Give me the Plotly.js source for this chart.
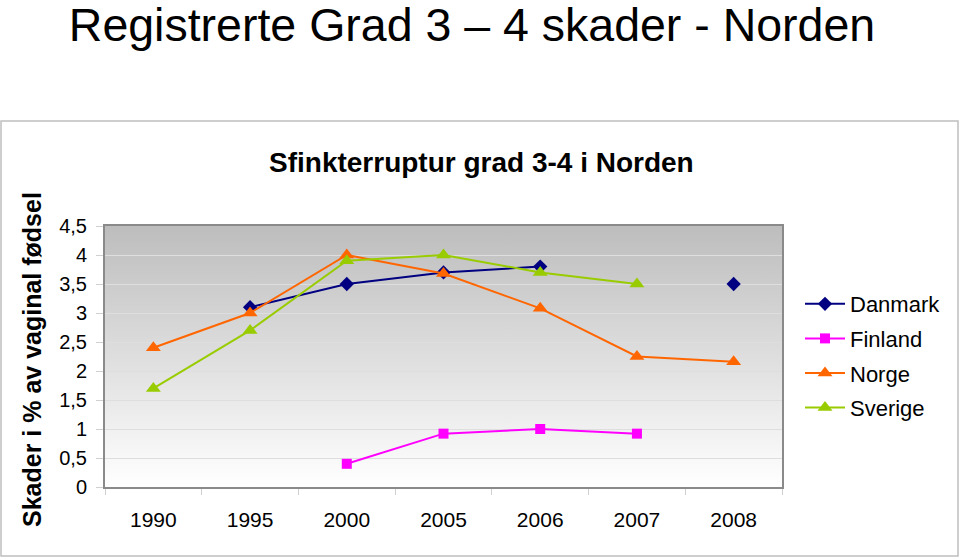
<!DOCTYPE html>
<html>
<head>
<meta charset="utf-8">
<script src="https://cdn.plot.ly/plotly-3.0.1.min.js"></script>
<style>
  html, body { margin: 0; padding: 0; background: #ffffff; }
  #chart { width: 960px; height: 559px; }
</style>
</head>
<body>
<div id="chart"></div>
<script>
// ---- Data ----
const years = ["1990", "1995", "2000", "2005", "2006", "2007", "2008"];
const danmark = [null, 3.1, 3.5, 3.7, 3.8, null, 3.5];
const finland = [null, null, 0.4, 0.92, 1.0, 0.92, null];
const norge   = [2.4, 3.0, 4.0, 3.68, 3.08, 2.25, 2.16];
const sverige = [1.7, 2.7, 3.9, 4.0, 3.7, 3.5, null];
const yTicks = [0, 0.5, 1, 1.5, 2, 2.5, 3, 3.5, 4, 4.5];

// ---- Layout geometry (pixels) ----
const W = 960, H = 559;
const PL = 105, PR = 782, PT = 226, PB = 487;
const px = x => (x - PL) / (PR - PL);
const py = y => (PB - y) / (PB - PT);

const FONT = "Liberation Sans, Arial, sans-serif";

function series(name, y, color, symbol, size) {
  return {
    type: "scatter", mode: "lines+markers", name: name,
    x: years, y: y, connectgaps: false, legendgroup: name,
    line: { color: color, width: 2 },
    marker: { color: color, symbol: symbol, size: size, line: { width: 0 } }
  };
}

const traces = [
  series("Danmark", danmark, "#000080", "diamond", 11),
  series("Finland", finland, "#ff00ff", "square", 10),
  series("Norge", norge, "#ff6600", "triangle-up", 13),
  series("Sverige", sverige, "#99cc00", "triangle-up", 13)
];

const grad = '<svg xmlns="http://www.w3.org/2000/svg" width="100" height="100" preserveAspectRatio="none">' +
  '<defs><linearGradient id="g" x1="0" y1="0" x2="0" y2="1">' +
  '<stop offset="0" stop-color="#bdbdbd"/><stop offset="1" stop-color="#ffffff"/>' +
  '</linearGradient></defs><rect width="100" height="100" fill="url(#g)"/></svg>';
const gradURI = "data:image/svg+xml;base64," + btoa(grad);

const layout = {
  width: W, height: H,
  margin: { l: PL, r: W - PR, t: PT, b: H - PB, pad: 0 },
  paper_bgcolor: "#ffffff",
  plot_bgcolor: "rgba(0,0,0,0)",
  separators: ", ",
  font: { family: FONT, color: "#000000", size: 18 },
  title: {
    text: "Registrerte Grad 3 – 4 skader - Norden",
    font: { family: FONT, size: 46.5, color: "#000000" },
    x: 472 / W, xanchor: "center",
    y: 1 - 25 / H, yanchor: "middle", yref: "container"
  },
  xaxis: {
    type: "category",
    range: [-0.5, 6.5],
    showgrid: false,
    showline: true, mirror: true, linecolor: "#8a8a8a", linewidth: 2,
    ticks: "outside", tickson: "boundaries", ticklen: 6, tickcolor: "#d0d0d0",
    tickfont: { family: FONT, size: 21, color: "#000000" },
    ticklabelstandoff: 13,
    fixedrange: true
  },
  yaxis: {
    range: [0, 4.5],
    tickvals: yTicks,
    showgrid: true, gridcolor: "#dedede", gridwidth: 1,
    zeroline: false,
    showline: true, mirror: true, linecolor: "#8a8a8a", linewidth: 2,
    ticks: "outside", ticklen: 7, tickcolor: "#d0d0d0",
    tickfont: { family: FONT, size: 20, color: "#000000" },
    ticklabelstandoff: 5,
    fixedrange: true
  },
  showlegend: true,
  legend: {
    x: px(800), y: py(283), xanchor: "left", yanchor: "top",
    font: { family: FONT, size: 22, color: "#000000" },
    bgcolor: "rgba(0,0,0,0)", borderwidth: 0,
    tracegroupgap: 3, itemwidth: 40
  },
  images: [{
    source: gradURI, xref: "paper", yref: "paper",
    x: 0, y: 1, sizex: 1, sizey: 1, xanchor: "left", yanchor: "top",
    sizing: "stretch", layer: "below"
  }],
  shapes: [{
    type: "rect", xref: "paper", yref: "paper",
    x0: px(1), x1: px(958), y0: py(556), y1: py(121),
    line: { color: "#bfbfbf", width: 1.5 }, fillcolor: "rgba(0,0,0,0)", layer: "below"
  }],
  annotations: [
    {
      text: "<b>Sfinkterruptur grad 3-4 i Norden</b>",
      xref: "paper", yref: "paper", x: px(481), y: py(162),
      xanchor: "center", yanchor: "middle", showarrow: false,
      font: { family: FONT, size: 28, color: "#000000" }
    },
    {
      text: "<b>Skader i % av vaginal fødsel</b>",
      xref: "paper", yref: "paper", x: px(32), y: py(360),
      xanchor: "center", yanchor: "middle", showarrow: false, textangle: -90,
      font: { family: FONT, size: 25, color: "#000000" }
    }
  ]
};

Plotly.newPlot("chart", traces, layout, { displayModeBar: false, staticPlot: true });
</script>
</body>
</html>
